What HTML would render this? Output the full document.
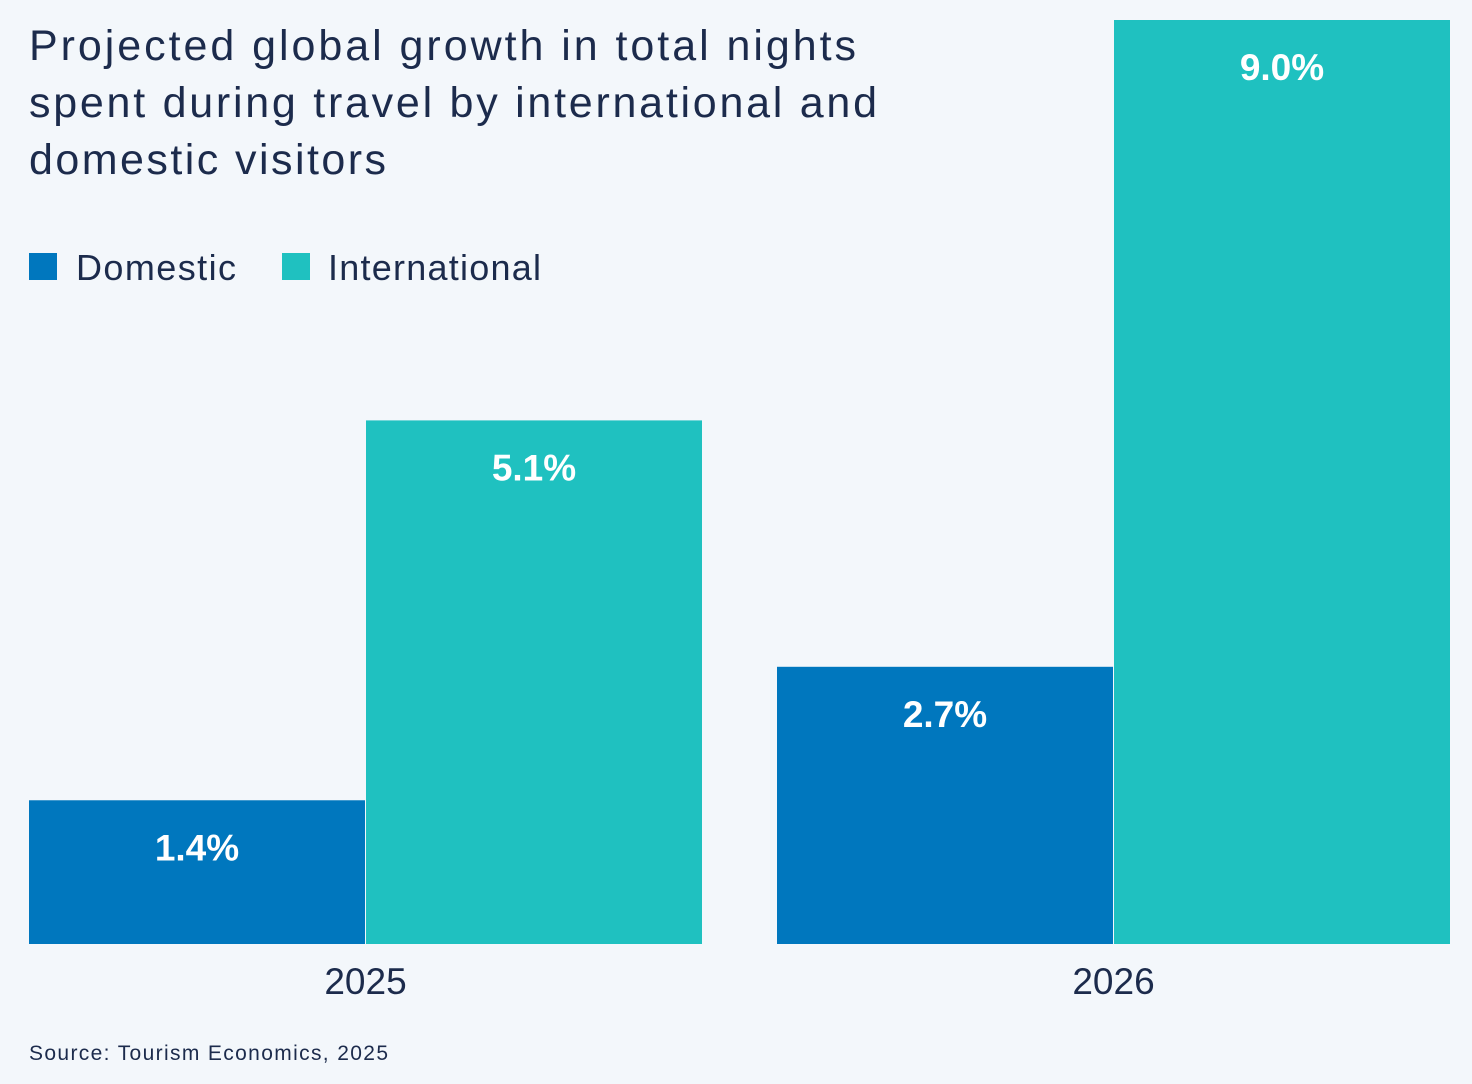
<!DOCTYPE html>
<html><head><meta charset="utf-8"><style>
html,body{margin:0;padding:0;background:#f3f7fb;}
svg{display:block;font-family:"Liberation Sans",sans-serif;}
</style></head><body>
<svg id="chart" width="1472" height="1084" viewBox="0 0 1472 1084">
<rect x="0" y="0" width="1472" height="1084" fill="#f3f7fb"/>
<g fill="#1c2b4c" font-size="43">
<text x="29" y="60" textLength="827" lengthAdjust="spacing">Projected global growth in total nights</text>
<text x="29" y="117" textLength="848" lengthAdjust="spacing">spent during travel by international and</text>
<text x="29" y="174" textLength="357" lengthAdjust="spacing">domestic visitors</text>
</g>
<g>
<rect x="29" y="253" width="28" height="27" fill="#0077be"/>
<text x="76" y="280" font-size="36" fill="#1c2b4c" textLength="160" lengthAdjust="spacing">Domestic</text>
<rect x="282" y="253" width="28" height="27" fill="#1fc1c0"/>
<text x="328" y="280" font-size="36" fill="#1c2b4c" textLength="213" lengthAdjust="spacing">International</text>
</g>
<g id="bars"></g>
<text x="29" y="1060" font-size="21" fill="#1c2b4c" textLength="359" lengthAdjust="spacing">Source: Tourism Economics, 2025</text>
</svg>
<script>
const categories = ["2025", "2026"];
const domestic = [1.4, 2.7];
const international = [5.1, 9.0];
const valueLabels = [["1.4%", "5.1%"], ["2.7%", "9.0%"]];

const baseY = 944, topY = 20, maxV = 9.0;
function yScale(v){ return baseY - (v / maxV) * (baseY - topY); }
const groupStart = [29, 777], barW = 336, gap = 1;
const svgNS = "http://www.w3.org/2000/svg";
const g = document.getElementById("bars");
function mk(tag, attrs){ const e = document.createElementNS(svgNS, tag); for (const k in attrs) e.setAttribute(k, attrs[k]); return e; }
categories.forEach((cat, i) => {
  const series = [domestic[i], international[i]];
  const colors = ["#0077be", "#1fc1c0"];
  const names = ["domestic", "international"];
  series.forEach((v, j) => {
    const x = groupStart[i] + j * (barW + gap);
    const y = yScale(v);
    const r = mk("rect", {x: x, y: y, width: barW, height: baseY - y, fill: colors[j]});
    
    
    g.appendChild(r);
    const t = mk("text", {x: x + barW / 2, y: y + 60, "text-anchor": "middle", "font-size": "37", "font-weight": "bold", fill: "#ffffff"});
    t.textContent = valueLabels[i][j];
    
    
    g.appendChild(t);
  });
  const xl = mk("text", {x: groupStart[i] + barW + gap / 2, y: 994, "text-anchor": "middle", "font-size": "37", fill: "#1c2b4c"});
  xl.textContent = cat;
  
  
  g.appendChild(xl);
});
</script>
</body></html>
